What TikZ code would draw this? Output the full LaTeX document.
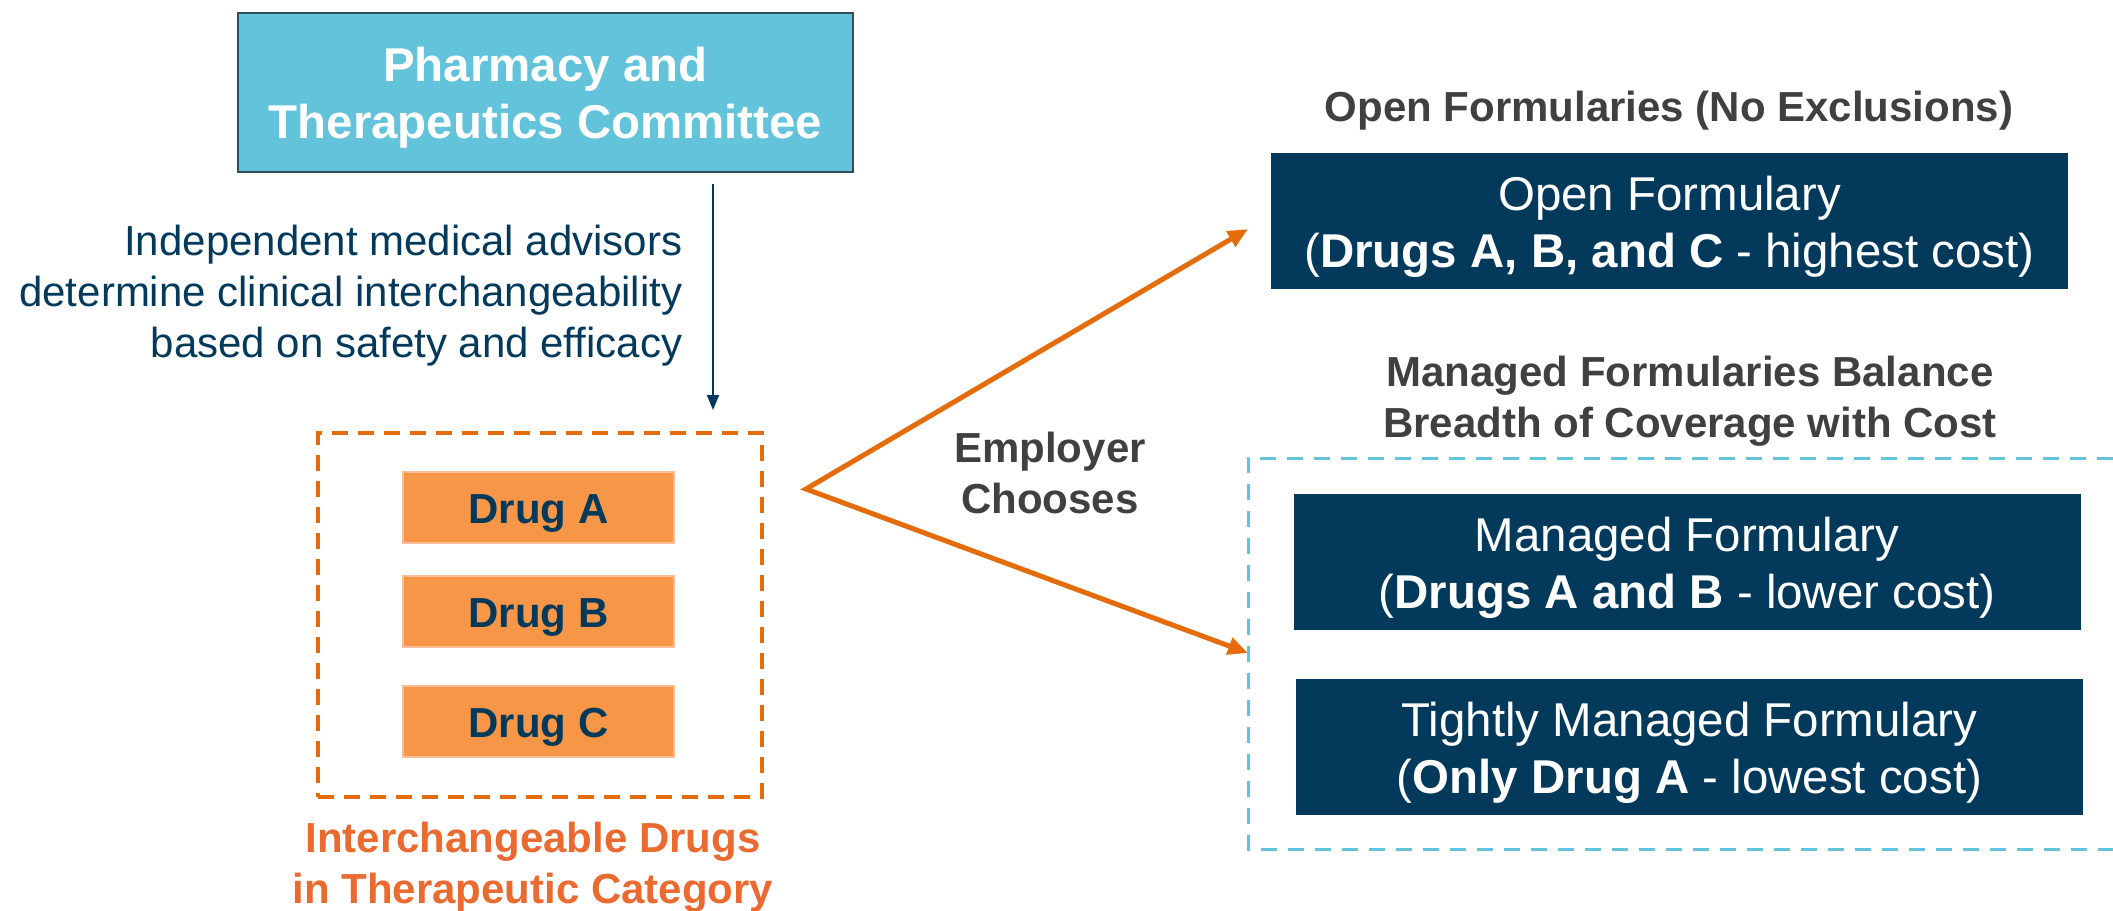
\documentclass[tikz,border=0pt]{standalone}
\usepackage{fontspec}
\setmainfont{Liberation Sans}
\usetikzlibrary{arrows.meta}

\definecolor{navy}{HTML}{033A5C}
\definecolor{ptcyan}{HTML}{62C3DA}
\definecolor{ptedge}{HTML}{2F4D5A}
\definecolor{drugfill}{HTML}{F79646}
\definecolor{drugedge}{HTML}{F8BE9C}
\definecolor{orangeline}{HTML}{E46C0A}
\definecolor{catlabel}{HTML}{EA6A30}
\definecolor{headgray}{HTML}{404040}

\newcommand{\bigtext}{\fontsize{13.5pt}{16.4pt}\selectfont}
\newcommand{\midtext}{\fontsize{11.95pt}{14.5pt}\selectfont}
\newcommand{\boxstrut}{\rule{0pt}{4.6mm}}

\tikzset{
  committee/.style={draw=ptedge, line width=0.2mm, fill=ptcyan, text=white,
    font=\bigtext\bfseries, align=center, inner sep=0pt,
    minimum width=61.5mm, minimum height=15.9mm},
  drugbox/.style={draw=drugedge, line width=0.15mm, fill=drugfill, text=navy,
    font=\midtext\bfseries, inner sep=0pt, minimum width=27.1mm,
    minimum height=7.1mm, text height=4mm, text depth=0.9mm},
  formbox/.style={fill=navy, text=white, font=\bigtext, align=center,
    inner sep=0pt, minimum width=78.7mm, minimum height=13.6mm},
  heading/.style={text=headgray, font=\midtext\bfseries, align=center, inner sep=0pt},
  choicearrow/.style={draw=orangeline, line width=0.5mm,
    {Triangle[length=2mm,width=1.7mm]}-{Triangle[length=2mm,width=1.7mm]}}
}

\begin{document}
\begin{tikzpicture}[x=0.1mm, y=-0.1mm]
   \useasboundingbox (0,0) rectangle (2113,911);

   \node(ptc)[committee] at (545.5,92) {\boxstrut Pharmacy and\\Therapeutics Committee};
   \node(advice)[anchor=east, align=right, text=navy, font=\midtext, inner sep=0pt]
     at (683,295.5) {Independent medical advisors\\determine clinical interchangeability\\based on safety and efficacy};
   \coordinate(down1) at (713,184);
   \coordinate(down2) at (713,410);
   \draw[navy, line width=0.2mm, -{Triangle[length=1.5mm,width=1.2mm]}] (down1) -- (down2);

   \node(cat)[draw=orangeline, line width=0.4mm, dash pattern=on 1.6mm off 1mm,
     minimum width=44.4mm, minimum height=36.4mm] at (539.5,615) {};
   \node(drugA)[drugbox] at (538.5,507.5) {Drug A};
   \node(drugB)[drugbox] at (538.5,611.5) {Drug B};
   \node(drugC)[drugbox] at (538.5,721.5) {Drug C};
   \node(catname)[text=catlabel, font=\midtext\bfseries, align=center, inner sep=0pt]
     at (533,867) {Interchangeable Drugs\\in Therapeutic Category};

   \node(employer)[heading] at (1050,473) {Employer\\Chooses};
   \coordinate(fork) at (806,489);
   \coordinate(toopen) at (1248,229);
   \coordinate(tomanaged) at (1248,653);
   \draw[choicearrow] (toopen) -- (fork) -- (tomanaged);

   \node(openhead)[heading, anchor=base] at (1669,121) {Open Formularies (No Exclusions)};
   \node(open)[formbox, minimum width=79.7mm] at (1669.5,221)
     {\boxstrut Open Formulary\\(\textbf{Drugs A, B, and C} - highest cost)};

   \node(managedhead)[heading] at (1690,401.5) {Managed Formularies Balance\\Breadth of Coverage with Cost};
   \draw[ptcyan, line width=0.3mm, dash pattern=on 1.6mm off 1.1mm]
     (2113,458) -| (1248,849) -- (2113,849);
   \node(managed)[formbox] at (1687,562)
     {\boxstrut Managed Formulary\\(\textbf{Drugs A and B} - lower cost)};
   \node(tight)[formbox] at (1689.5,747)
     {\boxstrut Tightly Managed Formulary\\(\textbf{Only Drug A} - lowest cost)};
\end{tikzpicture}
\end{document}
